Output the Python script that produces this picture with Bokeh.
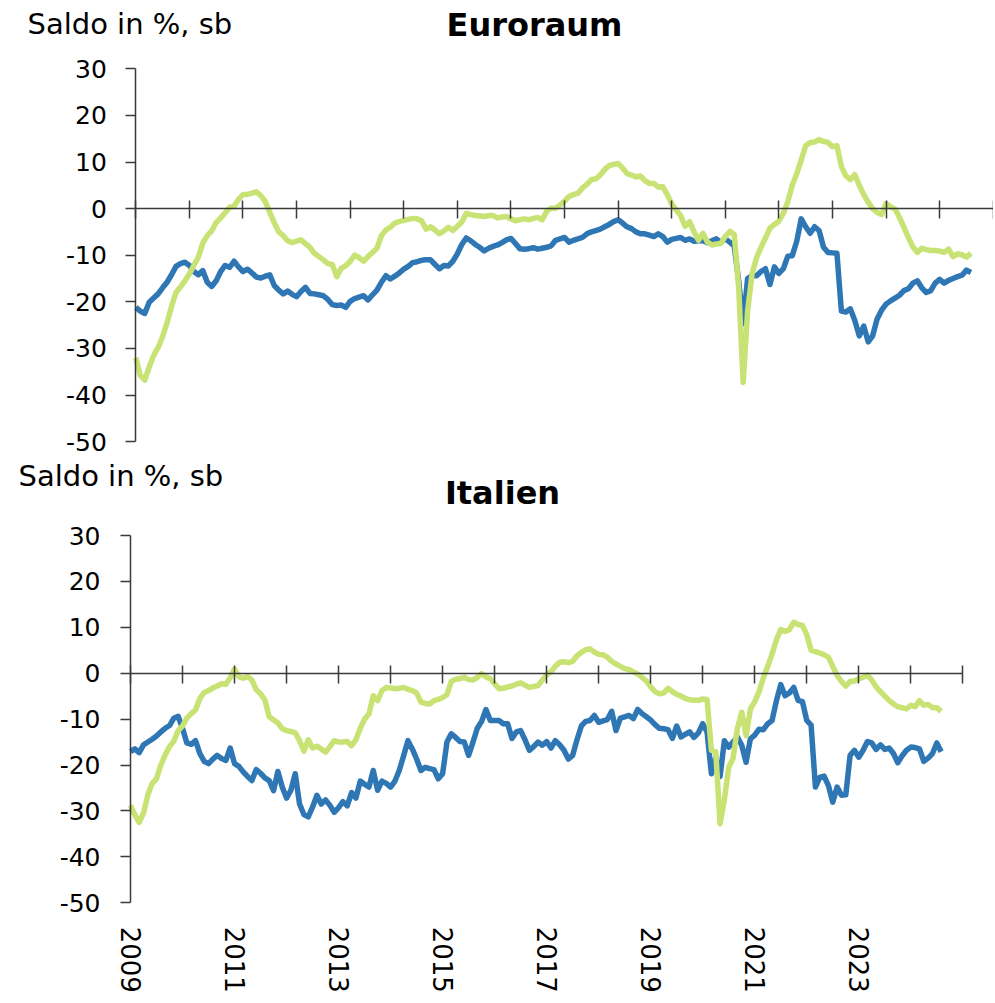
from bokeh.plotting import figure
from bokeh.models import LinearAxis, FixedTicker, Label, Range1d, ColumnDataSource
from bokeh.layouts import column
from bokeh.embed import file_html
from bokeh.resources import INLINE

# ---------------- data (monthly, Jan 2009 .. Aug 2024) ----------------
start_year = 2009
end_year = 2025
y_ticks = [-50, -40, -30, -20, -10, 0, 10, 20, 30]
year_ticks = list(range(2009, 2026))
year_labels = [2009, 2011, 2013, 2015, 2017, 2019, 2021, 2023]

euro_blue = [
    -21.2, -22.0, -22.5, -20.1, -19.2, -18.3, -17.0, -15.8, -14.2, -12.4, -11.8, -11.5,
    -12.2, -13.5, -14.2, -13.3, -15.8, -16.7, -15.5, -13.5, -12.2, -12.6, -11.3, -12.5,
    -13.5, -13.0, -13.8, -14.7, -14.9, -14.5, -14.2, -16.5, -17.5, -18.3, -17.7, -18.4,
    -18.9, -17.8, -16.9, -18.2, -18.3, -18.5, -18.7, -19.5, -20.6, -20.8, -20.7, -21.2,
    -19.9, -19.3, -19.0, -18.7, -19.6, -18.5, -17.5, -15.8, -14.4, -15.1, -14.5, -13.8,
    -13.0, -12.4, -11.6, -11.4, -11.1, -11.0, -11.0, -12.0, -12.9, -12.2, -12.3, -11.3,
    -9.7, -7.7, -6.3, -6.9, -7.7, -8.3, -9.1, -8.5, -8.1, -7.8, -7.3, -6.7,
    -6.4, -7.5, -8.6, -8.7, -8.6, -8.4, -8.7, -8.5, -8.3, -8.0, -6.8, -6.5,
    -6.2, -7.2, -6.8, -6.5, -6.2, -5.4, -5.0, -4.7, -4.4, -3.9, -3.4, -2.8,
    -2.4, -3.1, -3.9, -4.3, -5.0, -5.4, -5.4, -5.7, -6.0, -5.4, -6.0, -7.2,
    -6.6, -6.4, -6.2, -6.8, -6.5, -7.0, -6.9, -6.9, -7.3, -6.9, -6.5, -7.2,
    -6.5, -7.2, -8.0, -15.5, -24.7, -15.0, -14.4, -14.4, -13.5, -12.9, -16.3, -12.5,
    -13.9, -12.9, -10.2, -10.1, -7.0, -2.2, -3.9, -5.3, -3.9, -4.7, -8.3, -9.4,
    -9.5, -9.6, -22.0, -22.2, -21.5, -24.0, -27.3, -25.2, -28.6, -27.3, -23.7, -21.8,
    -20.5, -19.8, -19.2, -18.6, -17.6, -17.2, -16.0, -15.5, -17.0, -18.0, -17.6, -16.0,
    -15.2, -16.0, -15.4, -15.0, -14.6, -14.3, -13.2, -13.7,
]

euro_green = [
    -32.0, -35.8, -36.8, -34.0, -31.5, -29.8, -27.5, -24.5, -21.0, -18.0, -16.8, -15.5,
    -14.0, -12.2, -10.4, -7.4, -5.8, -4.8, -3.0, -2.0, -0.9, 0.3, 0.5, 2.0,
    3.0, 3.1, 3.3, 3.6, 2.8, 1.5, -0.8, -3.0, -5.0, -5.8, -6.9, -7.3,
    -7.0, -6.7, -7.5, -8.3, -9.6, -10.3, -11.0, -11.8, -12.0, -14.6, -12.8, -12.3,
    -11.3, -10.0, -10.5, -11.3, -10.3, -9.4, -8.5, -5.8, -4.6, -4.0, -3.1, -2.8,
    -2.5, -2.3, -2.1, -2.2, -2.6, -4.4, -3.9, -4.6, -5.4, -4.8, -4.0, -4.7,
    -3.8, -2.9, -1.0, -1.3, -1.5, -1.6, -1.7, -1.5, -1.5, -2.0, -1.8, -1.7,
    -2.2, -2.6, -2.4, -2.2, -2.4, -2.1, -1.9, -2.4, -0.6, 0.1, 0.1, 0.8,
    1.6, 2.6, 3.0, 3.3, 4.4, 5.2, 6.2, 6.4, 7.2, 8.4, 9.2, 9.5,
    9.7, 8.7, 7.5, 7.2, 6.8, 7.0, 6.0, 5.4, 5.4, 4.6, 4.7, 3.0,
    1.0, -0.3, -1.5, -3.8, -2.8, -5.0, -6.8, -5.3, -7.2, -7.8, -7.6, -7.5,
    -6.0, -4.9, -5.5, -17.0, -37.3, -22.0, -14.0, -10.5, -8.3, -6.3, -4.2, -3.4,
    -2.7, -1.0, 1.5, 5.0, 7.5, 10.4, 13.5, 14.2, 14.3, 14.8, 14.4, 14.2,
    13.3, 13.5, 9.0, 7.0, 6.2, 7.3, 5.0, 3.0, 1.4, 0.0, -0.8, -1.3,
    1.1, 0.4, -0.1, -1.9, -4.0, -6.2, -8.2, -9.4, -8.5, -8.8, -9.0, -9.0,
    -9.1, -9.4, -8.7, -10.3, -9.7, -9.9, -10.4, -9.6,
]

ita_blue = [
    -17.1, -16.5, -17.3, -15.6, -15.0, -14.4, -13.7, -12.8, -12.0, -11.4, -9.8, -9.4,
    -12.0, -15.2, -15.5, -14.7, -17.5, -19.2, -19.7, -18.7, -17.9, -18.6, -19.0, -16.3,
    -19.7, -20.3, -21.5, -22.5, -23.4, -21.0, -21.8, -22.8, -23.4, -25.6, -21.4, -24.8,
    -27.2, -25.5, -21.9, -28.5, -30.8, -31.3, -29.2, -26.6, -28.5, -27.6, -28.8, -30.3,
    -29.3, -28.0, -28.9, -26.0, -27.2, -23.5, -24.2, -24.8, -21.2, -25.5, -23.5, -24.0,
    -24.8, -23.5, -21.2, -18.0, -14.7, -16.5, -18.7, -21.2, -20.5, -20.8, -21.0, -23.0,
    -21.9, -15.0, -13.2, -14.0, -14.9, -15.0, -17.9, -15.0, -12.0, -10.5, -7.9, -10.3,
    -10.3, -10.3, -11.0, -11.0, -14.2, -12.8, -12.5, -14.5, -16.8, -16.0, -15.0, -15.7,
    -14.9, -16.3, -14.7, -15.6, -16.8, -18.7, -17.9, -14.5, -11.5, -10.5, -10.3, -9.2,
    -10.7, -10.4, -10.1, -8.3, -12.5, -9.8, -9.5, -9.2, -9.9, -7.9, -8.8, -9.5,
    -10.2, -11.2, -12.0, -12.1, -12.3, -14.2, -11.5, -13.9, -13.3, -12.8, -14.0, -13.0,
    -11.0, -12.8, -21.9, -18.5, -22.5, -14.7, -16.1, -15.0, -13.9, -15.7, -19.4, -14.3,
    -13.5, -12.2, -12.3, -11.0, -10.3, -6.0, -2.5, -4.9, -4.3, -3.1, -5.9, -6.2,
    -10.3, -11.3, -24.8, -22.7, -22.4, -24.5, -28.1, -24.8, -26.6, -26.5, -17.9, -16.8,
    -18.3, -16.8, -14.9, -15.2, -16.6, -15.6, -16.6, -16.3, -17.5, -19.5, -18.0, -16.8,
    -16.1, -16.2, -16.5, -19.2, -18.5, -17.5, -15.2, -17.1,
]

ita_green = [
    -28.8, -30.8, -32.5, -30.5, -26.5, -24.0, -23.0, -20.0, -17.8, -16.0, -14.8, -12.5,
    -11.5, -9.8, -8.8, -8.0, -5.5, -4.2, -3.8, -3.2, -2.8, -2.3, -2.4, -1.0,
    0.9, -0.8, -1.1, -0.7, -1.5, -3.6, -4.5, -5.8, -9.5, -10.2, -10.8, -12.1,
    -12.5, -12.7, -13.0, -14.7, -17.0, -14.5, -16.3, -15.9, -16.5, -17.2, -16.0, -14.7,
    -15.0, -15.0, -14.9, -15.8, -14.5, -12.0, -10.0, -8.9, -4.9, -6.0, -3.8, -3.1,
    -3.2, -3.4, -3.3, -3.1, -3.5, -3.8, -4.3, -6.3, -6.6, -6.7, -6.0, -5.7,
    -5.3, -4.7, -1.8, -1.3, -1.2, -0.9, -1.4, -1.5, -0.9, -0.1, -0.8, -1.2,
    -2.3, -3.4, -3.3, -3.0, -2.8, -2.4, -2.1, -2.6, -3.1, -2.9, -2.7, -1.5,
    -0.3, 0.3, 1.5, 2.4, 2.5, 2.3, 2.6, 3.8, 4.5, 5.1, 5.3, 4.6,
    4.1, 4.0, 3.5, 2.6, 2.0, 1.5, 1.0, 0.8, 0.3, -0.2, -0.9, -1.7,
    -3.0, -4.0, -4.5, -4.3, -3.3, -4.0, -4.6, -5.0, -5.5, -5.8, -5.9, -5.9,
    -5.6, -5.7, -16.8, -17.1, -32.8, -27.5, -20.5, -18.5, -12.0, -8.5, -13.6, -7.8,
    -6.2, -4.0, -1.0, 1.5, 4.2, 7.3, 9.5, 9.1, 9.5, 11.1, 10.6, 10.4,
    8.4, 5.0, 4.7, 4.4, 4.0, 3.5, 1.5, -0.5, -1.8, -2.8, -1.8, -1.7,
    -1.2, -0.9, -0.4, -1.5, -3.0, -4.0, -5.0, -5.9, -6.7, -7.3, -7.5, -7.8,
    -7.0, -7.3, -6.0, -7.0, -6.8, -7.5, -7.5, -8.3,
]

months = [start_year + i / 12 for i in range(len(euro_blue))]

# ---------------- styling / layout ----------------
BLUE = "#2E77B4"
GREEN = "#C8E274"
AXIS_COL = "#3a3a3a"
FONT = "DejaVu Sans"
W = 993


def make_panel(title, blue, green, height, x0_px, xppu, y30_px, yppu, page_top,
               label_standoff, saldo_pos, title_pos, show_years):
    # the frame covers the whole canvas; axes are placed at fixed data locations
    x_start = start_year - x0_px / xppu
    x_end = start_year + (W - x0_px) / xppu
    y_top = 30 + (y30_px - page_top) / yppu
    y_bottom = y_top - height / yppu

    p = figure(width=W, height=height,
               x_range=Range1d(x_start, x_end), y_range=Range1d(y_bottom, y_top),
               x_axis_location=None, y_axis_location=None,
               toolbar_location=None, output_backend="svg",
               min_border_left=0, min_border_right=0,
               min_border_top=0, min_border_bottom=0)
    p.outline_line_color = None
    p.grid.visible = False
    p.background_fill_color = "white"
    p.border_fill_color = "white"

    ya = LinearAxis(fixed_location=start_year, bounds=(-50, 30),
                    ticker=FixedTicker(ticks=y_ticks))
    ya.major_label_overrides = {t: str(t) for t in y_ticks}
    ya.major_tick_in = 0
    ya.major_tick_out = 10
    ya.minor_tick_in = 0
    ya.minor_tick_out = 0
    ya.axis_line_color = AXIS_COL
    ya.axis_line_width = 1.5
    ya.major_tick_line_color = AXIS_COL
    ya.major_tick_line_width = 1.5
    ya.major_label_text_font = FONT
    ya.major_label_text_font_size = "25px"
    ya.major_label_text_color = "black"
    ya.major_label_standoff = label_standoff
    p.add_layout(ya, "left")

    # x axis crossing at y = 0
    xa = LinearAxis(fixed_location=0, bounds=(start_year, end_year),
                    ticker=FixedTicker(ticks=year_ticks))
    xa.major_tick_in = 8
    xa.major_tick_out = 10
    xa.minor_tick_in = 0
    xa.minor_tick_out = 0
    xa.axis_line_color = AXIS_COL
    xa.axis_line_width = 1.5
    xa.major_tick_line_color = AXIS_COL
    xa.major_tick_line_width = 1.5
    xa.major_label_text_color = None
    p.add_layout(xa, "below")

    if show_years:
        la = LinearAxis(fixed_location=-50, ticker=FixedTicker(ticks=year_labels))
        la.axis_line_color = None
        la.major_tick_line_color = None
        la.minor_tick_line_color = None
        la.major_tick_in = 0
        la.major_tick_out = 0
        la.minor_tick_in = 0
        la.minor_tick_out = 0
        la.major_label_orientation = "vertical"
        la.major_label_standoff = 24
        la.major_label_text_font = FONT
        la.major_label_text_font_size = "26px"
        la.major_label_text_color = "black"
        p.add_layout(la, "below")

    src = ColumnDataSource(dict(x=months, blue=blue, green=green))
    p.line("x", "blue", source=src, line_color=BLUE, line_width=5.5, line_join="round")
    p.line("x", "green", source=src, line_color=GREEN, line_width=5.5, line_join="round")

    def to_data(px, py):
        return (start_year + (px - x0_px) / xppu, 30 + (y30_px - py) / yppu)

    sx, sy = to_data(*saldo_pos)
    p.add_layout(Label(x=sx, y=sy, text="Saldo in %, sb", text_font=FONT,
                       text_font_size="29px", text_color="black",
                       text_align="left", text_baseline="alphabetic"))
    tx, ty = to_data(*title_pos)
    p.add_layout(Label(x=tx, y=ty, text=title, text_font=FONT,
                       text_font_size="32px", text_font_style="bold",
                       text_color="black", text_align="center",
                       text_baseline="alphabetic"))
    return p


p1 = make_panel("Euroraum", euro_blue, euro_green, height=460,
                x0_px=135.3, xppu=53.59, y30_px=68.3, yppu=4.66, page_top=0,
                label_standoff=19, saldo_pos=(27, 23), title_pos=(534, 24),
                show_years=False)

p2 = make_panel("Italien", ita_blue, ita_green, height=540,
                x0_px=130.0, xppu=52.02, y30_px=535.0, yppu=4.59, page_top=460,
                label_standoff=20, saldo_pos=(18, 475), title_pos=(502, 492),
                show_years=True)

layout = column(p1, p2, spacing=0)
open("out.html", "w").write(file_html(layout, INLINE))
